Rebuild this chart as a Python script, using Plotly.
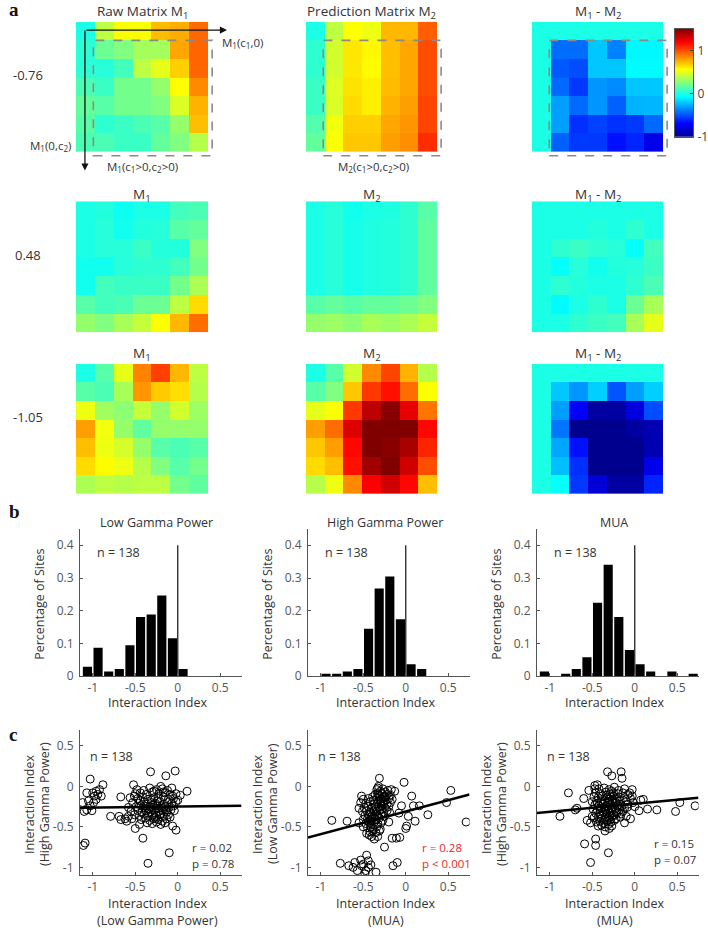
import plotly.graph_objects as go

W, H = 708, 935
FONT = "Open Sans"

# ---------------- DATA ----------------
row_labels = ["-0.76", "0.48", "-1.05"]
top_titles = ["Raw Matrix M<sub>1</sub>", "Prediction Matrix M<sub>2</sub>", "M<sub>1</sub> - M<sub>2</sub>"]
sub_titles = ["M<sub>1</sub>", "M<sub>2</sub>", "M<sub>1</sub> - M<sub>2</sub>"]

m1_ex1 = [
    [0.00, 0.40, 0.55, 0.55, 0.73, 0.76, 0.93],
    [0.04, 0.20, 0.25, 0.34, 0.34, 0.78, 0.94],
    [0.04, 0.03, 0.10, 0.40, 0.50, 0.68, 0.94],
    [0.12, 0.08, 0.22, 0.22, 0.30, 0.56, 0.85],
    [0.18, 0.15, 0.22, 0.22, 0.25, 0.47, 0.75],
    [0.15, 0.05, 0.08, 0.12, 0.15, 0.30, 0.72],
    [0.12, 0.12, 0.08, 0.08, 0.18, 0.25, 0.38],
]
m2_ex1 = [
    [0.00, 0.40, 0.56, 0.52, 0.74, 0.74, 0.96],
    [0.05, 0.45, 0.62, 0.58, 0.72, 0.78, 1.00],
    [0.05, 0.45, 0.62, 0.57, 0.72, 0.78, 1.00],
    [0.08, 0.48, 0.63, 0.60, 0.73, 0.78, 1.00],
    [0.08, 0.47, 0.65, 0.60, 0.75, 0.80, 1.02],
    [0.14, 0.53, 0.68, 0.68, 0.78, 0.82, 1.02],
    [0.18, 0.55, 0.70, 0.70, 0.80, 0.84, 1.08],
]
d_ex1 = [
    [0, 0.00, 0.00, 0.00, 0.00, 0.00, 0.00],
    [0, -0.42, -0.42, -0.20, -0.37, -0.08, -0.08],
    [0, -0.47, -0.50, -0.20, -0.20, -0.07, -0.07],
    [0, -0.43, -0.55, -0.32, -0.35, -0.20, -0.20],
    [0, -0.30, -0.43, -0.32, -0.45, -0.25, -0.24],
    [0, -0.30, -0.57, -0.53, -0.57, -0.55, -0.43],
    [0, -0.45, -0.55, -0.55, -0.65, -0.60, -0.75],
]
m1_ex2 = [
    [0.00, 0.02, -0.03, 0.00, 0.00, 0.10, 0.12],
    [0.00, 0.03, -0.02, 0.02, 0.03, 0.15, 0.18],
    [0.00, 0.03, 0.03, 0.08, 0.02, 0.02, 0.25],
    [-0.02, -0.02, 0.03, 0.05, 0.05, 0.10, 0.22],
    [-0.02, 0.10, 0.08, 0.08, 0.08, 0.22, 0.36],
    [0.15, 0.10, 0.12, 0.20, 0.20, 0.40, 0.65],
    [0.30, 0.25, 0.35, 0.42, 0.56, 0.74, 0.92],
]
m2_ex2 = [
    [0.00, 0.03, -0.02, 0.00, 0.01, 0.05, 0.15],
    [0.00, 0.03, -0.01, 0.01, 0.02, 0.05, 0.17],
    [0.00, 0.03, -0.01, 0.01, 0.02, 0.05, 0.17],
    [0.00, 0.03, -0.01, 0.01, 0.02, 0.05, 0.17],
    [0.00, 0.03, -0.01, 0.01, 0.02, 0.05, 0.17],
    [0.15, 0.18, 0.15, 0.18, 0.18, 0.20, 0.25],
    [0.30, 0.32, 0.28, 0.35, 0.32, 0.36, 0.42],
]
d_ex2 = [
    [0, 0.00, 0.00, 0.00, 0.00, 0.00, 0.00],
    [0, 0.00, 0.00, 0.02, 0.00, 0.05, 0.00],
    [0, 0.05, 0.08, 0.05, 0.03, -0.05, 0.10],
    [0, -0.05, 0.03, -0.02, 0.02, 0.03, 0.08],
    [0, 0.05, 0.02, 0.00, 0.00, 0.05, 0.12],
    [0, -0.07, 0.00, 0.05, 0.00, 0.20, 0.35],
    [0, 0.00, 0.05, 0.08, 0.10, 0.35, 0.50],
]
m1_ex3 = [
    [0.00, 0.15, 0.50, 0.87, 1.03, 0.74, 0.40],
    [0.15, 0.12, 0.35, 0.82, 0.69, 0.64, 0.38],
    [0.52, 0.33, 0.28, 0.42, 0.30, 0.45, 0.32],
    [0.80, 0.53, 0.30, 0.17, 0.30, 0.30, 0.30],
    [0.72, 0.52, 0.46, 0.30, 0.15, 0.12, 0.15],
    [0.65, 0.57, 0.52, 0.38, 0.25, 0.15, 0.22],
    [0.36, 0.40, 0.38, 0.40, 0.40, 0.22, 0.17],
]
m2_ex3 = [
    [0.00, 0.15, 0.45, 0.85, 1.02, 0.75, 0.38],
    [0.15, 0.25, 0.70, 1.05, 1.15, 0.92, 0.56],
    [0.50, 0.55, 1.05, 1.35, 1.48, 1.25, 0.90],
    [0.80, 0.92, 1.27, 1.50, 1.50, 1.50, 1.17],
    [0.70, 0.80, 1.17, 1.50, 1.48, 1.40, 1.10],
    [0.65, 0.72, 1.15, 1.42, 1.50, 1.30, 1.00],
    [0.38, 0.52, 0.85, 1.20, 1.30, 1.17, 0.72],
]
d_ex3 = [
    [0, 0.00, 0.00, 0.00, 0.00, 0.00, 0.00],
    [0, -0.20, -0.32, -0.18, -0.48, -0.30, -0.18],
    [0, -0.30, -0.70, -0.95, -0.95, -0.78, -0.50],
    [0, -0.40, -1.00, -1.00, -1.00, -0.95, -0.90],
    [0, -0.28, -0.65, -1.00, -1.00, -1.00, -0.90],
    [0, -0.22, -0.57, -1.00, -1.00, -1.00, -0.75],
    [0, -0.05, -0.55, -0.80, -0.95, -0.95, -0.60],
]
heat_rows = [[m1_ex1, m2_ex1, d_ex1], [m1_ex2, m2_ex2, d_ex2], [m1_ex3, m2_ex3, d_ex3]]
color_min, color_max = -1.0, 1.5
colorbar_ticks = [-1, 0, 1]

# histograms (counts of sites per bin)
n_sites = 138
bin_width = 0.125
hist_titles = ["Low Gamma Power", "High Gamma Power", "MUA"]
hist_first_edges = [-1.125, -1.0, -1.125]
counts_low = [4, 12, 2, 3, 13, 25, 26, 34, 16, 3]
counts_high = [1, 1, 2, 3, 20, 37, 42, 24, 5, 3]
counts_mua = [2, 0, 1, 3, 8, 31, 47, 25, 11, 5, 2, 0, 2, 0, 1]
hist_counts = [counts_low, counts_high, counts_mua]
zero_line_top = 0.4

# scatter panels
sc1_pts = [
    (-1.12, -0.2), (-1.1, -0.31), (-1.07, -0.29), (-1.11, -0.73), (-1.09, -0.7), (-1.03, 0.09),
    (-1.07, -0.08), (-1.03, -0.24), (-1.05, -0.18), (-1.0, -0.08), (-0.98, -0.12), (-0.99, -0.2),
    (-1.01, -0.3), (-0.96, -0.06), (-0.94, -0.1), (-0.96, -0.16), (-0.92, -0.04), (-0.9, -0.12),
    (-0.88, 0.02),
    (-0.79, -0.37), (-0.67, -0.13), (-0.69, -0.37), (-0.67, -0.41), (-0.62, -0.4), (-0.6, -0.43),
    (-0.32, 0.18), (-0.14, 0.13), (-0.03, 0.19), (-0.52, 0.02), (0.11, -0.06), (-0.41, -0.64),
    (-0.1, -0.82), (-0.35, -0.95), (-0.06, -0.49), (-0.02, -0.54), (-0.5, -0.52), (-0.45, -0.47),
    (-0.48, -0.04), (-0.4, -0.05), (-0.33, -0.02), (-0.25, -0.04), (-0.18, -0.03), (-0.12, -0.05),
    (-0.07, -0.02), (-0.2, 0.0),
    (-0.5, -0.09), (-0.44, -0.08), (-0.37, -0.1), (-0.3, -0.07), (-0.22, -0.09), (-0.15, -0.08),
    (-0.09, -0.1), (-0.02, -0.09), (0.03, -0.11),
    (-0.56, -0.14), (-0.47, -0.15), (-0.41, -0.13), (-0.35, -0.16), (-0.28, -0.14), (-0.23, -0.15),
    (-0.17, -0.13), (-0.11, -0.16), (-0.05, -0.15), (0.0, -0.17),
    (-0.53, -0.2), (-0.46, -0.21), (-0.4, -0.19), (-0.36, -0.22), (-0.31, -0.2), (-0.26, -0.21),
    (-0.21, -0.19), (-0.16, -0.22), (-0.12, -0.2), (-0.07, -0.21), (-0.02, -0.19),
    (-0.58, -0.26), (-0.49, -0.25), (-0.43, -0.24), (-0.38, -0.27), (-0.33, -0.25), (-0.29, -0.26),
    (-0.24, -0.24), (-0.19, -0.27), (-0.15, -0.25), (-0.1, -0.26), (-0.05, -0.24),
    (-0.55, -0.31), (-0.47, -0.3), (-0.42, -0.32), (-0.37, -0.3), (-0.32, -0.31), (-0.27, -0.29),
    (-0.22, -0.31), (-0.18, -0.3), (-0.13, -0.32), (-0.08, -0.29),
    (-0.51, -0.35), (-0.45, -0.36), (-0.4, -0.34), (-0.35, -0.37), (-0.3, -0.35), (-0.25, -0.36),
    (-0.2, -0.34), (-0.16, -0.37), (-0.11, -0.35),
    (-0.54, -0.4), (-0.43, -0.41), (-0.38, -0.39), (-0.33, -0.42), (-0.28, -0.4), (-0.23, -0.41),
    (-0.18, -0.43), (-0.13, -0.4),
    (-0.36, -0.45), (-0.3, -0.46), (-0.25, -0.44), (-0.2, -0.47), (-0.15, -0.45),
    (-0.34, -0.28), (-0.29, -0.23), (-0.26, -0.33), (-0.22, -0.27), (-0.31, -0.17), (-0.24, -0.18),
    (-0.19, -0.24), (-0.27, -0.38), (-0.35, -0.33), (-0.21, -0.35), (-0.39, -0.24), (-0.14, -0.29),
    (-0.44, -0.18), (-0.09, -0.38), (-0.04, -0.3), (-0.58, -0.37), (-0.51, -0.12), (-0.17, -0.07),
    (-0.28, -0.06), (-0.06, -0.12),
]
sc2_pts = [
    (-0.77, -0.95), (-0.67, -0.98), (-0.6, -0.94), (-0.62, -1.0), (-0.57, -1.04), (-0.53, -0.91),
    (-0.52, -0.98), (-0.48, -1.08), (-0.46, -0.85), (-0.44, -0.92), (-0.44, -1.0), (-0.47, -1.04),
    (-0.35, -1.06), (-0.15, -0.98), (-0.1, -0.94), (-0.5, -0.96), (-0.41, -0.97),
    (-0.87, -0.42), (-0.69, -0.43), (-0.25, -0.75), (-0.16, -0.64), (-0.11, -0.64), (-0.07, -0.63),
    (0.0, -0.52), (0.01, -0.49), (-0.02, 0.05), (0.07, -0.12), (0.11, -0.43), (0.09, -0.24),
    (0.16, -0.24), (0.26, -0.35), (0.53, -0.05), (0.48, -0.2), (0.71, -0.44), (-0.05, -0.24),
    (-0.13, -0.06), (-0.17, -0.04), (-0.31, 0.1), (-0.33, -0.02), (-0.52, -0.12), (-0.55, -0.45),
    (-0.5, -0.5), (-0.37, -0.65), (-0.33, -0.62), (-0.43, -0.6), (-0.2, -0.44), (0.03, -0.37),
    (-0.08, -0.33),
    (-0.34, -0.04), (-0.3, -0.06), (-0.27, -0.03), (-0.24, -0.07), (-0.21, -0.05),
    (-0.36, -0.1), (-0.32, -0.11), (-0.28, -0.09), (-0.25, -0.12), (-0.22, -0.1), (-0.18, -0.11),
    (-0.39, -0.13),
    (-0.5, -0.16), (-0.44, -0.15), (-0.38, -0.17), (-0.34, -0.15), (-0.3, -0.16), (-0.27, -0.14),
    (-0.23, -0.17), (-0.2, -0.15), (-0.16, -0.16),
    (-0.53, -0.2), (-0.47, -0.21), (-0.42, -0.19), (-0.37, -0.22), (-0.33, -0.2), (-0.29, -0.21),
    (-0.26, -0.19), (-0.22, -0.22), (-0.18, -0.2),
    (-0.49, -0.26), (-0.44, -0.25), (-0.4, -0.27), (-0.36, -0.25), (-0.32, -0.26), (-0.28, -0.24),
    (-0.24, -0.27), (-0.2, -0.25),
    (-0.51, -0.31), (-0.46, -0.3), (-0.42, -0.32), (-0.38, -0.3), (-0.34, -0.31), (-0.3, -0.29),
    (-0.26, -0.32), (-0.22, -0.3),
    (-0.48, -0.36), (-0.44, -0.35), (-0.4, -0.37), (-0.36, -0.35), (-0.33, -0.36), (-0.29, -0.34),
    (-0.25, -0.37),
    (-0.5, -0.41), (-0.45, -0.4), (-0.42, -0.42), (-0.39, -0.4), (-0.35, -0.41), (-0.31, -0.39),
    (-0.27, -0.42),
    (-0.47, -0.46), (-0.43, -0.45), (-0.4, -0.47), (-0.37, -0.44), (-0.33, -0.46), (-0.29, -0.45),
    (-0.45, -0.51), (-0.41, -0.5), (-0.38, -0.52), (-0.34, -0.5), (-0.3, -0.53),
    (-0.42, -0.56), (-0.39, -0.55), (-0.35, -0.57), (-0.31, -0.55),
    (-0.31, -0.13), (-0.26, -0.22), (-0.35, -0.28), (-0.41, -0.34), (-0.38, -0.38), (-0.44, -0.43),
    (-0.29, -0.18), (-0.24, -0.13), (-0.33, -0.09), (-0.28, -0.28),
    (-0.46, -0.58), (-0.4, -0.62), (-0.32, 0.0), (-0.19, -0.32), (-0.55, -0.27),
]
sc3_pts = [
    (-0.88, -0.37), (-0.78, -0.08), (-0.68, -0.27), (-0.7, -0.29), (-0.59, -0.71), (-0.46, -0.65),
    (-0.46, -0.73), (-0.52, -0.94), (-0.31, -0.82), (-0.32, 0.18), (-0.27, 0.13), (-0.16, 0.18),
    (-0.15, 0.1), (-0.03, -0.04), (0.15, -0.28), (0.26, -0.29), (0.48, -0.31), (0.53, -0.2),
    (0.71, -0.24), (-0.54, -0.05), (-0.44, 0.02), (-0.47, 0.01), (-0.6, -0.15), (-0.56, -0.42),
    (-0.52, -0.45), (0.07, -0.17), (0.05, -0.3), (0.1, -0.16), (-0.05, -0.4), (-0.1, -0.37),
    (-0.12, -0.45), (-0.35, -0.55), (-0.3, -0.52),
    (-0.42, -0.03), (-0.36, -0.02), (-0.3, -0.04), (-0.24, -0.01), (-0.19, -0.05), (-0.12, -0.03),
    (-0.46, -0.08), (-0.4, -0.09), (-0.34, -0.07), (-0.29, -0.1), (-0.25, -0.08), (-0.2, -0.09),
    (-0.14, -0.08), (-0.08, -0.1),
    (-0.48, -0.13), (-0.43, -0.14), (-0.38, -0.12), (-0.33, -0.14), (-0.28, -0.13), (-0.23, -0.15),
    (-0.18, -0.13), (-0.12, -0.14), (-0.05, -0.15),
    (-0.5, -0.19), (-0.45, -0.18), (-0.4, -0.2), (-0.35, -0.18), (-0.31, -0.19), (-0.27, -0.17),
    (-0.22, -0.2), (-0.17, -0.18), (-0.1, -0.19), (-0.02, -0.2),
    (-0.47, -0.23), (-0.42, -0.24), (-0.37, -0.22), (-0.33, -0.24), (-0.29, -0.23), (-0.25, -0.25),
    (-0.2, -0.23), (-0.15, -0.24), (-0.08, -0.22),
    (-0.49, -0.28), (-0.44, -0.29), (-0.39, -0.27), (-0.35, -0.29), (-0.31, -0.28), (-0.27, -0.3),
    (-0.23, -0.28), (-0.18, -0.29), (-0.12, -0.27),
    (-0.46, -0.33), (-0.41, -0.34), (-0.37, -0.32), (-0.33, -0.34), (-0.29, -0.33), (-0.25, -0.35),
    (-0.21, -0.33), (-0.16, -0.34),
    (-0.48, -0.39), (-0.43, -0.38), (-0.39, -0.4), (-0.35, -0.38), (-0.31, -0.39), (-0.27, -0.37),
    (-0.22, -0.4), (-0.17, -0.38),
    (-0.45, -0.44), (-0.41, -0.43), (-0.37, -0.45), (-0.33, -0.43), (-0.28, -0.44), (-0.24, -0.42),
    (-0.43, -0.49), (-0.39, -0.48), (-0.35, -0.5), (-0.31, -0.47), (-0.27, -0.49),
    (-0.32, -0.21), (-0.28, -0.26), (-0.36, -0.26), (-0.3, -0.16), (-0.25, -0.12), (-0.34, -0.31),
    (-0.26, -0.2), (-0.38, -0.16), (-0.22, -0.31), (-0.3, -0.36), (-0.41, -0.28), (-0.19, -0.25),
    (-0.33, -0.11), (-0.27, -0.06), (-0.35, -0.41), (-0.24, -0.36), (-0.29, -0.41), (-0.39, -0.35),
    (-0.21, -0.16), (-0.44, -0.21), (-0.14, -0.31), (-0.09, -0.26), (-0.06, -0.08), (-0.03, -0.12),
    (0.0, -0.25), (-0.5, -0.37), (-0.47, -0.03),
]
scatter_sets = [sc1_pts, sc2_pts, sc3_pts]
fit_slopes = [0.013, 0.28, 0.10]
fit_intercepts = [-0.25, -0.31, -0.215]
stats_r = ["r = 0.02", "r = 0.28", "r = 0.15"]
stats_p = ["p = 0.78", "p &lt; 0.001", "p = 0.07"]
stats_color = ["#333333", "#e8262a", "#333333"]
sc_ytitles = ["(High Gamma Power)", "(Low Gamma Power)", "(High Gamma Power)"]
sc_xtitles = ["(Low Gamma Power)", "(MUA)", "(MUA)"]

x_ticks = [-1, -0.5, 0, 0.5]
x_ticktext = ["-1", "-0.5", "0", "0.5"]
hist_yticks = [0, 0.1, 0.2, 0.3, 0.4]
sc_yticks = [-1, -0.5, 0, 0.5]
sc_yticktext = ["-1", "-0.5", "0", "0.5"]
x_range = [-1.15, 0.75]
hist_yrange = [0, 0.45]
sc_yrange = [-1.1, 0.7]

# ---------------- LAYOUT GEOMETRY (pixels) ----------------
heat_cols_px = [(76, 208), (306, 437), (532, 663)]
heat_rows_px = [(22, 153), (203, 335), (367, 498)]
title_y_px = [12, 197, 357]
panel_cols_px = [(80, 241.5), (308, 469.5), (537, 698.5)]
hist_y_px = (533.5, 682)
sc_y_px = (736, 883)
cbar_x_px = (675, 693)
cbar_y_px = (29, 138)

def fx(px):
    return px / W

def fy(py):
    return 1 - py / H

TXT = "#333333"
AX = "#555555"

fig = go.Figure()
layout = dict(
    width=W, height=H, margin=dict(l=0, r=0, t=0, b=0),
    paper_bgcolor="white", plot_bgcolor="white", showlegend=False,
    font=dict(family=FONT, size=12, color=TXT),
)
annotations = []
shapes = []

def ann(x, y, text, size=12, color=TXT, xanchor="center", yanchor="middle", angle=0, family=FONT):
    annotations.append(dict(x=fx(x), y=fy(y), xref="paper", yref="paper", text=text, showarrow=False,
                            xanchor=xanchor, yanchor=yanchor, textangle=angle,
                            font=dict(size=size, color=color, family=family)))

k = 0
def next_axes():
    global k
    k += 1
    return k

# heatmaps
for r in range(3):
    for c in range(3):
        i = next_axes()
        xa = "xaxis" if i == 1 else f"xaxis{i}"
        ya = "yaxis" if i == 1 else f"yaxis{i}"
        xr = "x" if i == 1 else f"x{i}"
        yr = "y" if i == 1 else f"y{i}"
        x0, x1 = heat_cols_px[c]
        y0, y1 = heat_rows_px[r]
        layout[xa] = dict(domain=[fx(x0), fx(x1)], range=[-0.5, 6.5], visible=False, anchor=yr, fixedrange=True)
        layout[ya] = dict(domain=[fy(y1), fy(y0)], range=[6.5, -0.5], visible=False, anchor=xr, fixedrange=True)
        fig.add_trace(go.Heatmap(z=heat_rows[r][c], coloraxis="coloraxis", xaxis=xr, yaxis=yr,
                                 hoverinfo="skip"))
        title = top_titles[c] if r == 0 else sub_titles[c]
        ann((x0 + x1) / 2, title_y_px[r], title, size=13.5)
    ann(28, (heat_rows_px[r][0] + heat_rows_px[r][1]) / 2 - 12, row_labels[r], size=13)

layout["coloraxis"] = dict(
    cmin=color_min, cmax=color_max, showscale=False,
    colorscale=[[0, "rgb(0,0,143)"], [0.125, "rgb(0,0,255)"], [0.375, "rgb(0,255,255)"],
                [0.625, "rgb(255,255,0)"], [0.875, "rgb(255,0,0)"], [1, "rgb(128,0,0)"]],
)

# colour bar drawn as its own small axis showing the colour scale
i = next_axes()
cb_levels = [color_min + (color_max - color_min) * j / 250 for j in range(251)]
layout[f"xaxis{i}"] = dict(domain=[fx(cbar_x_px[0]), fx(cbar_x_px[1])], range=[-0.5, 0.5], anchor=f"y{i}",
                           showticklabels=False, ticks="", showline=True, mirror=True, linecolor="#555",
                           linewidth=1, showgrid=False, zeroline=False, fixedrange=True)
layout[f"yaxis{i}"] = dict(domain=[fy(cbar_y_px[1]), fy(cbar_y_px[0])], range=[color_min, color_max],
                           anchor=f"x{i}", side="right", tickvals=colorbar_ticks,
                           ticktext=[str(t) for t in colorbar_ticks], ticks="inside", ticklen=3,
                           tickcolor="#444", showline=True, mirror=True, linecolor="#555", linewidth=1,
                           showgrid=False, zeroline=False, fixedrange=True, ticklabelstandoff=1,
                           tickfont=dict(size=12, color="#444", family=FONT))
fig.add_trace(go.Heatmap(z=[[v] for v in cb_levels], y=cb_levels, x=[0], coloraxis="coloraxis",
                         xaxis=f"x{i}", yaxis=f"y{i}", hoverinfo="skip"))

# dashed boxes + arrows on first row
def cell_px(c, r, cx, cy):
    x0, x1 = heat_cols_px[c]
    y0, y1 = heat_rows_px[r]
    return x0 + (cx + 0.5) / 7 * (x1 - x0), y0 + (cy + 0.5) / 7 * (y1 - y0)

for c in range(3):
    bx0, by0 = cell_px(c, 0, 0.42, 0.5)
    bx1, by1 = cell_px(c, 0, 6.72, 6.72)
    shapes.append(dict(type="rect", xref="paper", yref="paper", x0=fx(bx0), x1=fx(bx1), y0=fy(by1), y1=fy(by0),
                       line=dict(color="#8a8a8a", width=1.6, dash="dash"), fillcolor="rgba(0,0,0,0)"))

ox, oy = cell_px(0, 0, 0.0, 0.0)
ox, oy = ox - 0.5, oy - 1
for (hx, hy) in [(227, oy), (ox, 172)]:
    annotations.append(dict(x=fx(hx), y=fy(hy), xref="paper", yref="paper", ax=ox - hx, ay=oy - hy,
                            axref="pixel", ayref="pixel", text="", showarrow=True, arrowhead=2,
                            arrowsize=1.1, arrowwidth=1.3, arrowcolor="#111", standoff=0, startstandoff=0))
ann(220, 43, "M<sub>1</sub>(c<sub>1</sub>,0)", size=11.5, xanchor="left")
ann(73, 147, "M<sub>1</sub>(0,c<sub>2</sub>)", size=11.5, xanchor="right")
ann(142, 168, "M<sub>1</sub>(c<sub>1</sub>&gt;0,c<sub>2</sub>&gt;0)", size=11.5)
ann(373, 168, "M<sub>2</sub>(c<sub>1</sub>&gt;0,c<sub>2</sub>&gt;0)", size=11.5)

axis_common = dict(showline=True, linecolor=AX, linewidth=1, ticks="inside", ticklen=3, tickcolor=AX,
                   showgrid=False, zeroline=False, fixedrange=True,
                   tickfont=dict(size=12, color="#555", family=FONT))

# histograms
for p in range(3):
    i = next_axes()
    xa, ya, xr, yr = f"xaxis{i}", f"yaxis{i}", f"x{i}", f"y{i}"
    x0, x1 = panel_cols_px[p]
    layout[xa] = dict(domain=[fx(x0), fx(x1)], range=x_range, anchor=yr, tickvals=x_ticks, ticktext=x_ticktext,
                      **axis_common)
    layout[ya] = dict(domain=[fy(hist_y_px[1]), fy(hist_y_px[0])], range=hist_yrange, anchor=xr,
                      tickvals=hist_yticks, ticktext=[("%g" % t) for t in hist_yticks], ticklabelstandoff=3,
                      **axis_common)
    counts = hist_counts[p]
    centers = [hist_first_edges[p] + bin_width * (j + 0.5) for j in range(len(counts))]
    heights = [cnt / n_sites for cnt in counts]
    fig.add_trace(go.Bar(x=centers, y=heights, width=bin_width * 0.86, marker=dict(color="black", line=dict(width=0)),
                         xaxis=xr, yaxis=yr, hoverinfo="skip"))
    fig.add_trace(go.Scatter(x=[0, 0], y=[0, zero_line_top], mode="lines", line=dict(color="#222", width=1.3),
                             xaxis=xr, yaxis=yr, hoverinfo="skip"))
    cx = (x0 + x1) / 2
    ann(cx - 4, 527, hist_titles[p], size=12.5)
    ann(cx - 3, 709, "Interaction Index", size=12.5)
    ann(x0 - 40, 610, "Percentage of Sites", size=12.5, angle=-90)
    ann(x0 + 15, 557, "n = 138", size=12.5, xanchor="left")

# scatter panels
for p in range(3):
    i = next_axes()
    xa, ya, xr, yr = f"xaxis{i}", f"yaxis{i}", f"x{i}", f"y{i}"
    x0, x1 = panel_cols_px[p]
    layout[xa] = dict(domain=[fx(x0), fx(x1)], range=x_range, anchor=yr, tickvals=x_ticks, ticktext=x_ticktext,
                      **axis_common)
    layout[ya] = dict(domain=[fy(sc_y_px[1]), fy(sc_y_px[0])], range=sc_yrange, anchor=xr,
                      tickvals=sc_yticks, ticktext=sc_yticktext, ticklabelstandoff=3, **axis_common)
    pts = scatter_sets[p]
    xs = [q[0] for q in pts]
    ys = [q[1] for q in pts]
    fig.add_trace(go.Scatter(x=xs, y=ys, mode="markers", xaxis=xr, yaxis=yr, hoverinfo="skip",
                             marker=dict(symbol="circle-open", size=8, color="black", line=dict(width=1))))
    lx = list(x_range)
    ly = [fit_slopes[p] * v + fit_intercepts[p] for v in lx]
    fig.add_trace(go.Scatter(x=lx, y=ly, mode="lines", line=dict(color="black", width=2.5),
                             xaxis=xr, yaxis=yr, hoverinfo="skip"))
    cx = (x0 + x1) / 2
    ann(cx - 3, 911, "Interaction Index", size=12.5)
    ann(cx - 3, 928, sc_xtitles[p], size=12.5)
    ann(x0 - 51, 811, "Interaction Index", size=12.5, angle=-90)
    ann(x0 - 36, 811, sc_ytitles[p], size=12.5, angle=-90)
    ann(x0 + 8, 763, "n = 138", size=12.5, xanchor="left")
    rx = [x0 + 110, x0 + 112, x0 + 115][p]
    ry = 855 if p < 2 else 851
    ann(rx, ry, stats_r[p], size=11.5, color=stats_color[p], xanchor="left")
    ann(rx, ry + 16, stats_p[p], size=11.5, color=stats_color[p], xanchor="left")

# panel letters
ann(7, 10, "<b>a</b>", size=19, color="#111", xanchor="left", family="Liberation Serif")
ann(7, 516, "<b>b</b>", size=19, color="#111", xanchor="left", family="Liberation Serif")
ann(7, 741, "<b>c</b>", size=19, color="#111", xanchor="left", family="Liberation Serif")

layout["annotations"] = annotations
layout["shapes"] = shapes
fig.update_layout(**layout)
# remove the browser's default 8px page margin so the figure sits at the window corner
fig.write_html("out.html", config={"displayModeBar": False},
               post_script="document.body.style.margin='0px';")
